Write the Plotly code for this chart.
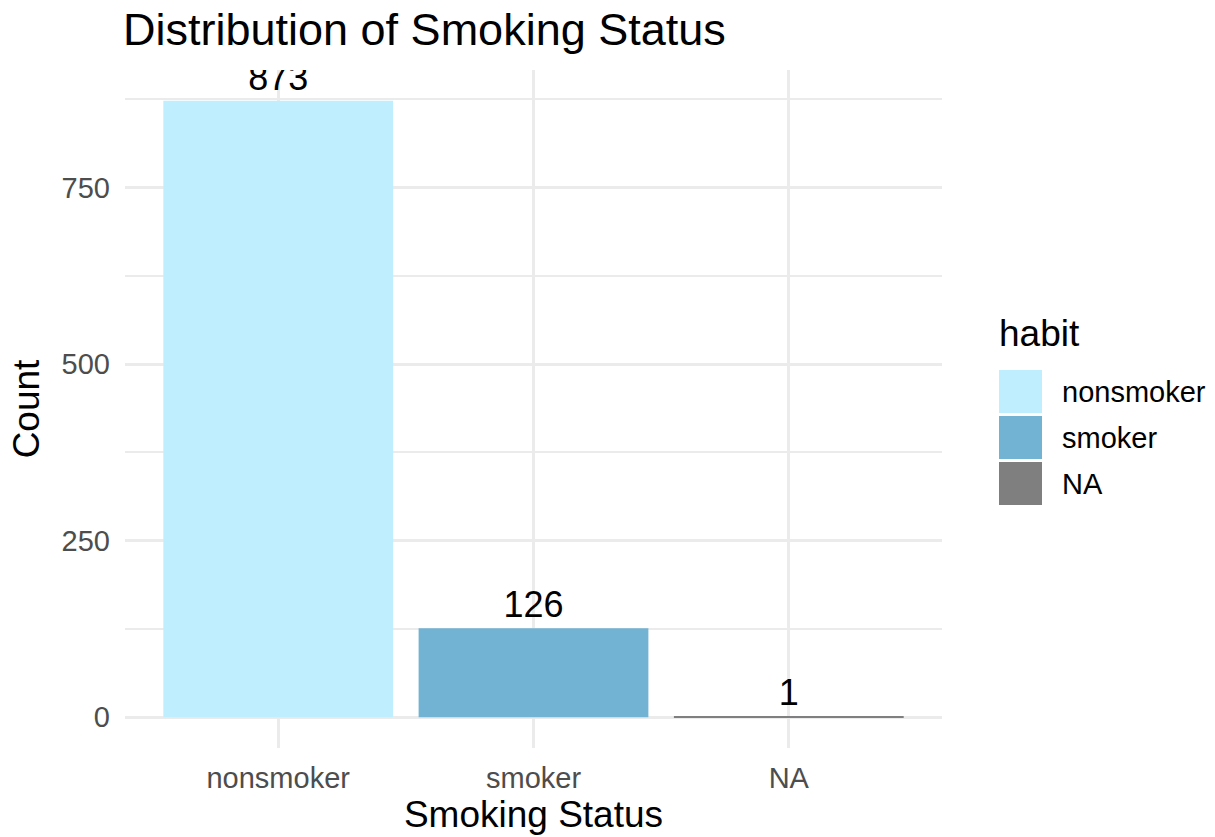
import plotly.graph_objects as go

# ---- data ----
categories = ["nonsmoker", "smoker", "NA"]
counts = [873, 126, 1]
bar_colors = ["#BFEFFF", "#72B2D2", "#7F7F7F"]
y_tick_vals = [0, 250, 500, 750]
y_tick_text = ["0", "250", "500", "750"]
legend_title = "habit"

FONT = "Liberation Sans, Arial, Helvetica, sans-serif"
W, H = 1215, 837
PX_L, PX_R, PX_T, PX_B = 125, 942, 70, 748


def px_x(px):
    return (px - PX_L) / (PX_R - PX_L)


def px_y(py):
    return (PX_B - py) / (PX_B - PX_T)


ymax = max(counts)
pad = 0.05 * ymax

fig = go.Figure()
fig.add_trace(go.Bar(
    x=categories,
    y=counts,
    marker=dict(color=bar_colors, line=dict(width=0)),
    width=0.9,
    texttemplate="%{y}",
    textposition="outside",
    outsidetextfont=dict(family=FONT, size=36, color="black"),
    cliponaxis=True,
    showlegend=False,
    hoverinfo="x+y",
))

# manual ggplot-style legend
shapes = []
annotations = [dict(
    text=legend_title, xref="paper", yref="paper",
    x=px_x(997), y=px_y(333), xanchor="left", yanchor="middle",
    showarrow=False, font=dict(family=FONT, size=37, color="black"),
)]
for i, (cat, col) in enumerate(zip(categories, bar_colors)):
    top = 370 + i * 46
    bot = top + 43
    shapes.append(dict(
        type="rect", xref="paper", yref="paper",
        x0=px_x(999), x1=px_x(1042), y0=px_y(bot), y1=px_y(top),
        fillcolor=col, line=dict(width=0), layer="above",
    ))
    annotations.append(dict(
        text=cat, xref="paper", yref="paper",
        x=px_x(1060), y=px_y((top + bot) / 2), xanchor="left", yanchor="middle",
        showarrow=False, font=dict(family=FONT, size=29, color="black"),
    ))

fig.update_layout(
    width=W, height=H,
    margin=dict(l=PX_L, r=W - PX_R, t=PX_T, b=H - PX_B, autoexpand=False),
    paper_bgcolor="white",
    plot_bgcolor="white",
    font=dict(family=FONT, color="black"),
    title=dict(
        text="Distribution of Smoking Status",
        font=dict(family=FONT, size=45, color="black"),
        x=123 / W, xref="container", xanchor="left",
        y=1 - 29 / H, yref="container", yanchor="middle",
    ),
    xaxis=dict(
        type="category",
        range=[-0.6, len(categories) - 0.4],
        showgrid=True, gridcolor="#EBEBEB", gridwidth=2.5,
        showline=False, zeroline=False, ticks="",
        tickfont=dict(family=FONT, size=29, color="#4D4D4D"),
        ticklabelstandoff=10,
        title=dict(text="Smoking Status", font=dict(family=FONT, size=37, color="black"), standoff=4),
        automargin=False,
    ),
    yaxis=dict(
        range=[-pad, ymax + pad],
        tickvals=y_tick_vals, ticktext=y_tick_text,
        showgrid=True, gridcolor="#EBEBEB", gridwidth=2.5,
        minor=dict(tick0=125, dtick=250, showgrid=True, gridcolor="#EBEBEB", gridwidth=1.5),
        showline=False, zeroline=False, ticks="",
        tickfont=dict(family=FONT, size=29, color="#4D4D4D"),
        ticklabelstandoff=14,
        title=dict(text="Count", font=dict(family=FONT, size=37, color="black"), standoff=10),
        automargin=False,
    ),
    shapes=shapes,
    annotations=annotations,
    bargap=0.1,
)

fig.write_html("out.html")
